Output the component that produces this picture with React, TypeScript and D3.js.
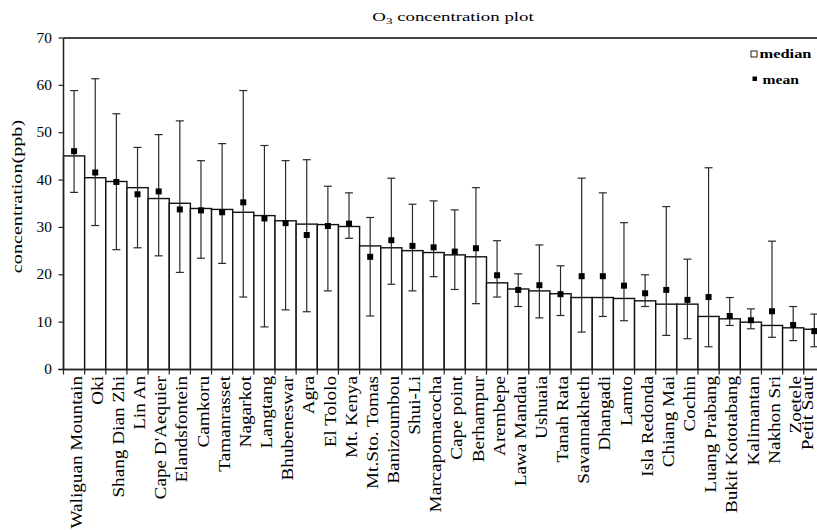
import * as d3 from 'd3'

const sites = [
  'Waliguan Mountain', 'Oki', 'Shang Dian Zhi', 'Lin An', "Cape D'Aequier", 'Elandsfontein',
  'Camkoru', 'Tamanrasset', 'Nagarkot', 'Langtang', 'Bhubeneswar', 'Agra', 'El Tololo',
  'Mt. Kenya', 'Mt.Sto. Tomas', 'Banizoumbou', 'Shui-Li', 'Marcapomacocha', 'Cape point',
  'Berhampur', 'Arembepe', 'Lawa Mandau', 'Ushuaia', 'Tanah Rata', 'Savannakheth', 'Dhangadi',
  'Lamto', 'Isla Redonda', 'Chiang Mai', 'Cochin', 'Luang Prabang', 'Bukit Kototabang',
  'Kalimantan', 'Nakhon Sri', 'Zoetele', 'Petit Saut',
]

const median = [
  45.1, 40.5, 39.7, 38.4, 36.1, 35.1, 34.0, 33.8, 33.2, 32.5, 31.4, 30.7, 30.6, 30.2, 26.1, 25.7,
  25.1, 24.7, 24.2, 23.8, 18.3, 17.0, 16.6, 16.0, 15.2, 15.2, 15.0, 14.5, 13.8, 13.8, 11.2, 10.7,
  10.0, 9.3, 8.8, 8.5,
]

const mean = [
  46.1, 41.6, 39.6, 37.0, 37.6, 33.8, 33.6, 33.2, 35.3, 31.9, 30.9, 28.4, 30.3, 30.8, 23.8, 27.3,
  26.1, 25.8, 24.9, 25.6, 19.9, 16.8, 17.8, 15.9, 19.7, 19.7, 17.7, 16.1, 16.8, 14.7, 15.3, 11.3,
  10.4, 12.3, 9.4, 8.1,
]

const upper = [
  58.9, 61.4, 54.0, 46.9, 49.6, 52.5, 44.1, 47.7, 58.9, 47.3, 44.1, 44.3, 38.7, 37.3, 32.1, 40.4,
  34.9, 35.6, 33.7, 38.4, 27.2, 20.2, 26.3, 21.9, 40.4, 37.3, 31.0, 20.0, 34.4, 23.3, 42.6, 15.2,
  12.8, 27.1, 13.3, 11.7,
]

const lower = [
  37.4, 30.4, 25.3, 25.7, 24.0, 20.5, 23.5, 22.4, 15.3, 9.0, 12.6, 12.2, 16.6, 27.7, 11.3, 18.0,
  16.6, 19.6, 16.9, 13.9, 15.3, 13.3, 10.9, 11.4, 7.9, 11.2, 10.3, 13.3, 7.2, 6.5, 4.8, 9.3,
  8.6, 6.8, 6.1, 4.8,
]

const yTicks = [0, 10, 20, 30, 40, 50, 60, 70]

const W = 817
const H = 530
const LEFT = 63.5
const BAND = 21.15
const TOP = 38
const BOTTOM = 369.5
const FONT = '"Liberation Serif", "Times New Roman", serif'

export default function App() {
  const x = d3
    .scaleBand<string>()
    .domain(sites)
    .range([LEFT, LEFT + sites.length * BAND])
    .padding(0)
  const y = d3.scaleLinear().domain([0, 70]).range([BOTTOM, TOP])
  const bw = x.bandwidth()
  const right = LEFT + sites.length * BAND
  const boundaries = [...sites.map((s) => x(s) ?? 0), right]

  return (
    <svg
      width={W}
      height={H}
      style={{ position: 'absolute', left: 0, top: 0, background: '#fff' }}
      fontFamily={FONT}
    >
      <rect width={W} height={H} fill="#fff" />

      {/* title */}
      <text transform="translate(453,21) scale(1.45,1)" textAnchor="middle" fontSize={13}>
        <tspan>O</tspan>
        <tspan fontSize={9} dy={3}>3</tspan>
        <tspan dy={-3}> concentration plot</tspan>
      </text>

      {/* median bars */}
      {sites.map((s, i) => (
        <rect
          key={s}
          x={x(s)}
          y={y(median[i])}
          width={bw}
          height={y(0) - y(median[i])}
          fill="#fff"
          stroke="#111"
          strokeWidth={1.4}
        />
      ))}

      {/* error bars */}
      {sites.map((s, i) => {
        const cx = (x(s) ?? 0) + bw / 2
        return (
          <g key={s} stroke="#2a2a2a" strokeWidth={1.2}>
            <line x1={cx} x2={cx} y1={y(upper[i])} y2={y(lower[i])} />
            <line x1={cx - 4} x2={cx + 4} y1={y(upper[i])} y2={y(upper[i])} />
            <line x1={cx - 4} x2={cx + 4} y1={y(lower[i])} y2={y(lower[i])} />
          </g>
        )
      })}

      {/* mean markers */}
      {sites.map((s, i) => (
        <rect
          key={s}
          x={(x(s) ?? 0) + bw / 2 - 3}
          y={y(mean[i]) - 3}
          width={6}
          height={6}
          fill="#000"
        />
      ))}

      {/* frame */}
      <line x1={LEFT} x2={W} y1={TOP} y2={TOP} stroke="#444" strokeWidth={2} />
      <line x1={LEFT} x2={LEFT} y1={TOP} y2={BOTTOM} stroke="#222" strokeWidth={1.5} />
      <line x1={LEFT - 5} x2={W} y1={BOTTOM} y2={BOTTOM} stroke="#222" strokeWidth={1.5} />

      {/* y axis */}
      {yTicks.map((t) => (
        <g key={t}>
          <line x1={LEFT - 5} x2={LEFT} y1={y(t)} y2={y(t)} stroke="#222" strokeWidth={1.2} />
          <text
            transform={`translate(52,${y(t)}) scale(1.1,1)`}
            dy="0.33em"
            textAnchor="end"
            fontSize={14}
          >
            {t}
          </text>
        </g>
      ))}
      <text
        transform={`translate(22,196.5) rotate(-90) scale(1.44,1)`}
        textAnchor="middle"
        fontSize={14}
      >
        concentration(ppb)
      </text>

      {/* x axis */}
      {boundaries.map((b, i) => (
        <line key={i} x1={b} x2={b} y1={BOTTOM} y2={BOTTOM + 5} stroke="#222" strokeWidth={1.2} />
      ))}
      {sites.map((s) => {
        // keep the last (cropped) label inside the picture, as in the original
        const cx = Math.min((x(s) ?? 0) + bw / 2, W - 12)
        return (
          <text
            key={s}
            transform={`translate(${cx},376) rotate(-90) scale(1.13,1)`}
            dy="0.45em"
            textAnchor="end"
            fontSize={17}
          >
            {s}
          </text>
        )
      })}

      {/* legend */}
      <rect x={751} y={51} width={6} height={6} fill="#fff" stroke="#222" strokeWidth={1} />
      <text transform="translate(759.5,58) scale(1.37,1)" fontSize={12} fontWeight={700}>
        median
      </text>
      <rect x={752.5} y={76.5} width={4.5} height={4.5} fill="#000" />
      <text transform="translate(762.5,83.5) scale(1.3,1)" fontSize={12} fontWeight={700}>
        mean
      </text>
    </svg>
  )
}
